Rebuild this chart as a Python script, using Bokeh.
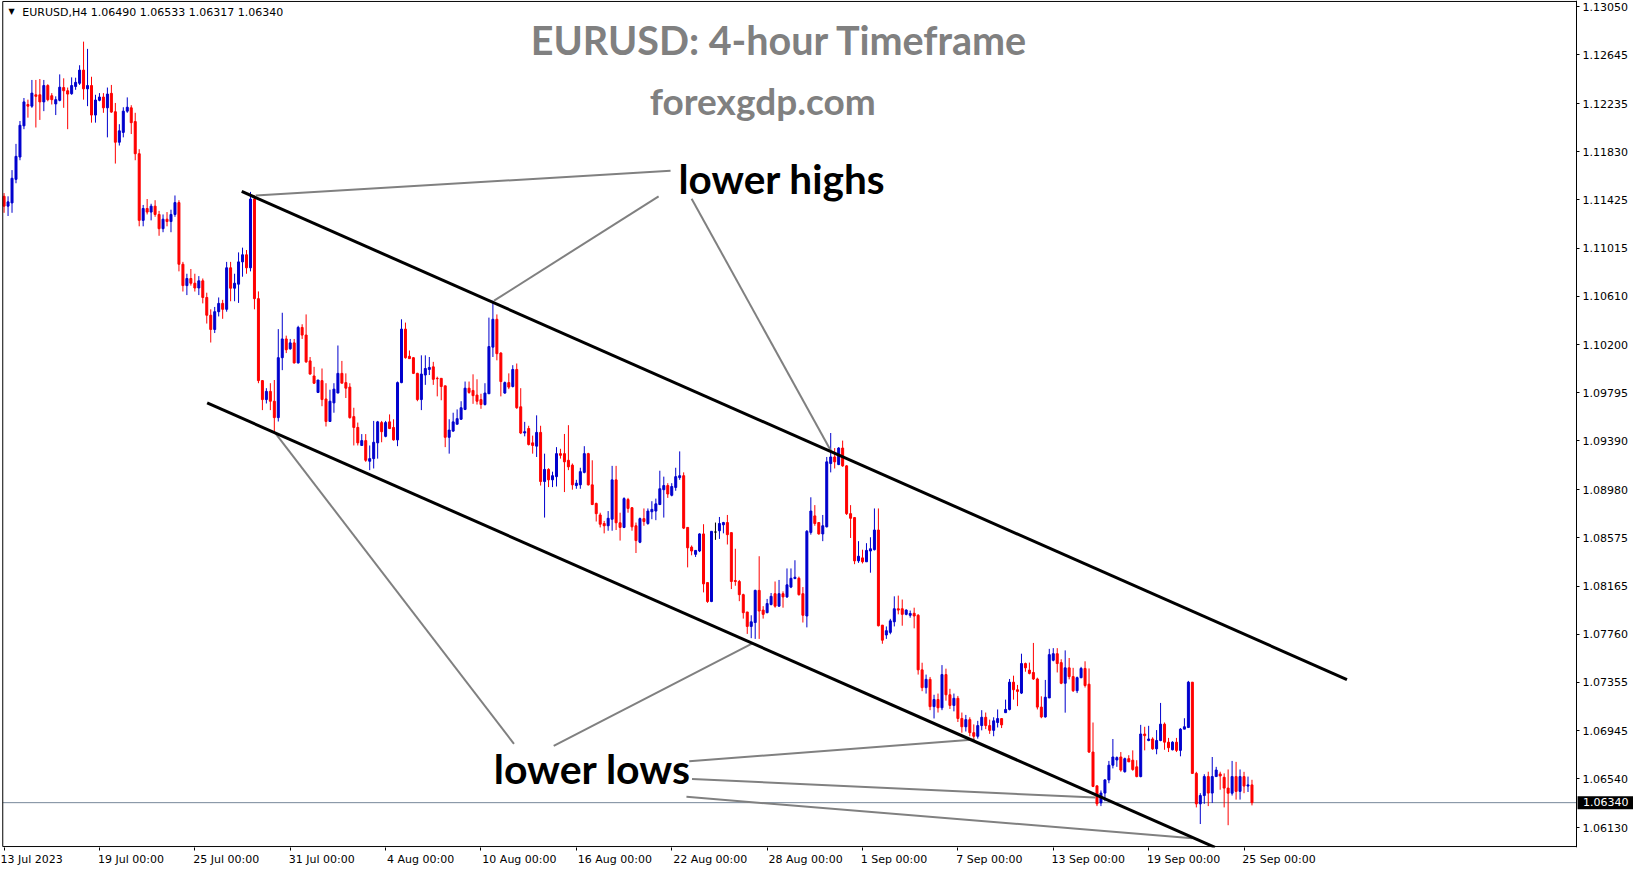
from bokeh.plotting import figure
from bokeh.models import Range1d, FixedTicker, PrintfTickFormatter, Label, ColumnDataSource
from bokeh.embed import file_html
from bokeh.resources import INLINE

# ---------------- data (EURUSD H4, 13 Jul 2023 - 25 Sep 2023) ----------------
bar_open = [
    1.11453, 1.11370, 1.11397, 1.11596, 1.11784, 1.12047, 1.12227, 1.12213, 1.12309, 1.12309,
    1.12249, 1.12387, 1.12301, 1.12232, 1.12262, 1.12370, 1.12343, 1.12318, 1.12379, 1.12406,
    1.12517, 1.12359, 1.12387, 1.12138, 1.12262, 1.12290, 1.12199, 1.12321, 1.12166, 1.11909,
    1.11992, 1.12171, 1.12199, 1.12083, 1.11812, 1.11250, 1.11350, 1.11320, 1.11370, 1.11300,
    1.11180, 1.11260, 1.11240, 1.11300, 1.11400, 1.10880, 1.10700, 1.10760, 1.10720, 1.10680,
    1.10740, 1.10600, 1.10450, 1.10330, 1.10480, 1.10550, 1.10500, 1.10850, 1.10678, 1.10712,
    1.10900, 1.10960, 1.10850, 1.11430, 1.10590, 1.09899, 1.09739, 1.09808, 1.09725, 1.09587,
    1.10092, 1.10250, 1.10167, 1.10217, 1.10048, 1.10347, 1.10283, 1.10065, 1.09938, 1.09799,
    1.09899, 1.09744, 1.09554, 1.09711, 1.09794, 1.09960, 1.09882, 1.09844, 1.09595, 1.09504,
    1.09352, 1.09393, 1.09219, 1.09241, 1.09374, 1.09545, 1.09429, 1.09551, 1.09504, 1.09399,
    1.09882, 1.10333, 1.10104, 1.10092, 1.09960, 1.09739, 1.09946, 1.09993, 1.10015, 1.09918,
    1.09918, 1.09855, 1.09421, 1.09473, 1.09531, 1.09573, 1.09656, 1.09835, 1.09816, 1.09777,
    1.09739, 1.09697, 1.09788, 1.10181, 1.10416, 1.10131, 1.09794, 1.09882, 1.09849, 1.09993,
    1.09678, 1.09457, 1.09495, 1.09374, 1.09346, 1.09462, 1.09048, 1.09150, 1.09062, 1.09089,
    1.09283, 1.09283, 1.09227, 1.09186, 1.09014, 1.09020, 1.09125, 1.09283, 1.09020, 1.08863,
    1.08766, 1.08694, 1.08675, 1.08730, 1.09062, 1.08700, 1.08661, 1.08896, 1.08827, 1.08675,
    1.08536, 1.08735, 1.08694, 1.08793, 1.08799, 1.08854, 1.08979, 1.09014, 1.08932, 1.08998,
    1.09081, 1.09097, 1.08661, 1.08495, 1.08434, 1.08462, 1.08606, 1.08196, 1.08036, 1.08622,
    1.08633, 1.08683, 1.08702, 1.08617, 1.08213, 1.08205, 1.08094, 1.07948, 1.07826, 1.07859,
    1.08130, 1.07964, 1.07942, 1.08011, 1.08102, 1.07997, 1.08102, 1.08075, 1.08158, 1.08230,
    1.08232, 1.08102, 1.07914, 1.08619, 1.08758, 1.08702, 1.08606, 1.08666, 1.09200, 1.09255,
    1.09191, 1.09330, 1.09180, 1.08777, 1.08744, 1.08379, 1.08404, 1.08371, 1.08462, 1.08473,
    1.08639, 1.07837, 1.07754, 1.07776, 1.07865, 1.07975, 1.07975, 1.07928, 1.07920, 1.07937,
    1.07920, 1.07460, 1.07310, 1.07380, 1.07150, 1.07210, 1.07140, 1.07420, 1.07250, 1.07160,
    1.07220, 1.07050, 1.06980, 1.07040, 1.06930, 1.06900, 1.06990, 1.07060, 1.06990, 1.06950,
    1.07016, 1.07049, 1.07099, 1.07126, 1.07356, 1.07292, 1.07264, 1.07513, 1.07458, 1.07438,
    1.07383, 1.07146, 1.07063, 1.07223, 1.07541, 1.07596, 1.07521, 1.07347, 1.07477, 1.07403,
    1.07284, 1.07394, 1.07472, 1.07339, 1.06767, 1.06482, 1.06338, 1.06421, 1.06532, 1.06656,
    1.06700, 1.06725, 1.06601, 1.06711, 1.06698, 1.06642, 1.06560, 1.06919, 1.06864, 1.06877,
    1.06794, 1.06864, 1.07002, 1.06850, 1.06786, 1.06850, 1.06781, 1.06960, 1.06974, 1.07356,
    1.06587, 1.06330, 1.06400, 1.06560, 1.06421, 1.06560, 1.06582, 1.06554, 1.06463, 1.06420,
    1.06560, 1.06435, 1.06560, 1.06480, 1.06490,
]
bar_high = [
    1.11480, 1.11453, 1.11674, 1.11895, 1.12088, 1.12282, 1.12268, 1.12434, 1.12434, 1.12442,
    1.12434, 1.12398, 1.12323, 1.12296, 1.12481, 1.12448, 1.12370, 1.12456, 1.12453, 1.12558,
    1.12757, 1.12696, 1.12461, 1.12309, 1.12323, 1.12323, 1.12370, 1.12392, 1.12240, 1.12061,
    1.12204, 1.12287, 1.12221, 1.12157, 1.11850, 1.11380, 1.11430, 1.11390, 1.11420, 1.11330,
    1.11300, 1.11320, 1.11340, 1.11460, 1.11420, 1.10900, 1.10800, 1.10840, 1.10800, 1.10780,
    1.10760, 1.10640, 1.10500, 1.10520, 1.10600, 1.10580, 1.10900, 1.10900, 1.10800, 1.10980,
    1.11020, 1.11000, 1.11490, 1.11460, 1.10651, 1.09904, 1.09835, 1.09877, 1.09904, 1.10333,
    1.10471, 1.10278, 1.10250, 1.10250, 1.10361, 1.10374, 1.10457, 1.10098, 1.10015, 1.09904,
    1.10001, 1.09877, 1.09822, 1.09877, 1.10195, 1.10065, 1.09960, 1.09877, 1.09670, 1.09545,
    1.09448, 1.09448, 1.09352, 1.09559, 1.09559, 1.09559, 1.09559, 1.09614, 1.09573, 1.09891,
    1.10416, 1.10388, 1.10153, 1.10098, 1.09965, 1.10112, 1.10112, 1.10098, 1.10057, 1.09932,
    1.09918, 1.09855, 1.09573, 1.09628, 1.09656, 1.09725, 1.09891, 1.09891, 1.09952, 1.09910,
    1.09788, 1.09877, 1.10430, 1.10573, 1.10457, 1.10139, 1.09891, 1.09960, 1.10029, 1.10043,
    1.09835, 1.09551, 1.09518, 1.09435, 1.09606, 1.09518, 1.09283, 1.09160, 1.09131, 1.09338,
    1.09324, 1.09449, 1.09523, 1.09200, 1.09062, 1.09164, 1.09346, 1.09290, 1.09227, 1.08870,
    1.08785, 1.08716, 1.08799, 1.09180, 1.09180, 1.08785, 1.08915, 1.08910, 1.08832, 1.08702,
    1.08744, 1.08821, 1.08821, 1.08882, 1.08904, 1.09139, 1.09089, 1.09034, 1.09034, 1.09164,
    1.09302, 1.09125, 1.08661, 1.08509, 1.08467, 1.08611, 1.08688, 1.08196, 1.08628, 1.08702,
    1.08749, 1.08708, 1.08766, 1.08617, 1.08481, 1.08218, 1.08102, 1.07948, 1.07920, 1.08136,
    1.08418, 1.07997, 1.08058, 1.08108, 1.08205, 1.08218, 1.08122, 1.08315, 1.08315, 1.08384,
    1.08246, 1.08158, 1.08639, 1.08915, 1.08849, 1.08702, 1.08766, 1.09255, 1.09457, 1.09330,
    1.09338, 1.09393, 1.09186, 1.08849, 1.08749, 1.08545, 1.08473, 1.08528, 1.08578, 1.08821,
    1.08821, 1.07837, 1.07826, 1.07890, 1.08080, 1.08086, 1.08053, 1.07970, 1.07960, 1.07984,
    1.07930, 1.07520, 1.07420, 1.07400, 1.07250, 1.07260, 1.07500, 1.07470, 1.07300, 1.07260,
    1.07240, 1.07100, 1.07080, 1.07060, 1.07000, 1.07030, 1.07120, 1.07100, 1.07040, 1.07060,
    1.07126, 1.07052, 1.07209, 1.07383, 1.07411, 1.07333, 1.07596, 1.07521, 1.07521, 1.07687,
    1.07394, 1.07237, 1.07375, 1.07637, 1.07643, 1.07643, 1.07549, 1.07624, 1.07560, 1.07477,
    1.07403, 1.07485, 1.07532, 1.07472, 1.07016, 1.06482, 1.06443, 1.06537, 1.06692, 1.06877,
    1.06730, 1.06767, 1.06720, 1.06740, 1.06781, 1.06698, 1.06996, 1.06980, 1.06988, 1.06891,
    1.06952, 1.07181, 1.07016, 1.06886, 1.06858, 1.06886, 1.06969, 1.07052, 1.07367, 1.07356,
    1.06600, 1.06420, 1.06580, 1.06601, 1.06725, 1.06642, 1.06601, 1.06587, 1.06620, 1.06692,
    1.06684, 1.06620, 1.06600, 1.06560, 1.06533,
]
bar_low = [
    1.11314, 1.11287, 1.11314, 1.11563, 1.11757, 1.12019, 1.12116, 1.12199, 1.12033, 1.12097,
    1.12171, 1.12254, 1.12227, 1.12138, 1.12254, 1.12199, 1.12019, 1.12309, 1.12351, 1.12392,
    1.12268, 1.12213, 1.12074, 1.12074, 1.12254, 1.12157, 1.11950, 1.12157, 1.11729, 1.11881,
    1.11950, 1.12157, 1.11978, 1.11757, 1.11200, 1.11200, 1.11300, 1.11250, 1.11280, 1.11120,
    1.11150, 1.11200, 1.11150, 1.11280, 1.10820, 1.10650, 1.10620, 1.10700, 1.10650, 1.10620,
    1.10550, 1.10380, 1.10220, 1.10300, 1.10440, 1.10420, 1.10480, 1.10568, 1.10568, 1.10554,
    1.10775, 1.10800, 1.10820, 1.10500, 1.09877, 1.09650, 1.09706, 1.09650, 1.09468, 1.09554,
    1.09987, 1.10131, 1.10159, 1.10043, 1.10043, 1.10250, 1.10048, 1.09950, 1.09870, 1.09794,
    1.09683, 1.09512, 1.09554, 1.09628, 1.09794, 1.09877, 1.09752, 1.09578, 1.09352, 1.09352,
    1.09352, 1.09214, 1.09144, 1.09158, 1.09241, 1.09379, 1.09421, 1.09490, 1.09393, 1.09346,
    1.09877, 1.10084, 1.10084, 1.09954, 1.09725, 1.09650, 1.09863, 1.09946, 1.09863, 1.09766,
    1.09733, 1.09338, 1.09283, 1.09468, 1.09531, 1.09567, 1.09650, 1.09788, 1.09703, 1.09697,
    1.09661, 1.09689, 1.09788, 1.10098, 1.10070, 1.09766, 1.09788, 1.09827, 1.09841, 1.09661,
    1.09448, 1.09429, 1.09352, 1.09283, 1.09255, 1.09014, 1.08744, 1.09001, 1.09001, 1.09006,
    1.09241, 1.08959, 1.09144, 1.08979, 1.08987, 1.08987, 1.09117, 1.09014, 1.08849, 1.08711,
    1.08661, 1.08611, 1.08633, 1.08633, 1.08639, 1.08550, 1.08655, 1.08785, 1.08633, 1.08445,
    1.08528, 1.08675, 1.08683, 1.08730, 1.08722, 1.08849, 1.08744, 1.08910, 1.08923, 1.08970,
    1.09062, 1.08647, 1.08324, 1.08426, 1.08412, 1.08453, 1.08113, 1.08025, 1.08031, 1.08556,
    1.08564, 1.08611, 1.08517, 1.08141, 1.08169, 1.08039, 1.07892, 1.07763, 1.07727, 1.07721,
    1.07721, 1.07892, 1.07937, 1.08003, 1.07984, 1.07992, 1.07984, 1.08066, 1.08149, 1.08224,
    1.08086, 1.07859, 1.07818, 1.08600, 1.08675, 1.08600, 1.08545, 1.08661, 1.09125, 1.09158,
    1.09186, 1.09172, 1.08766, 1.08572, 1.08351, 1.08362, 1.08357, 1.08371, 1.08279, 1.08467,
    1.07826, 1.07680, 1.07721, 1.07760, 1.07826, 1.07928, 1.07832, 1.07920, 1.07900, 1.07810,
    1.07420, 1.07280, 1.07260, 1.07120, 1.07050, 1.07100, 1.07120, 1.07200, 1.07130, 1.07110,
    1.07020, 1.06930, 1.06940, 1.06900, 1.06860, 1.06880, 1.06950, 1.06960, 1.06920, 1.06900,
    1.06974, 1.06969, 1.07099, 1.07118, 1.07209, 1.07154, 1.07256, 1.07444, 1.07422, 1.07375,
    1.07126, 1.07052, 1.07057, 1.07223, 1.07532, 1.07438, 1.07339, 1.07099, 1.07380, 1.07273,
    1.07264, 1.07389, 1.07311, 1.06759, 1.06471, 1.06311, 1.06311, 1.06352, 1.06504, 1.06629,
    1.06642, 1.06601, 1.06593, 1.06684, 1.06609, 1.06554, 1.06554, 1.06781, 1.06858, 1.06786,
    1.06748, 1.06858, 1.06786, 1.06767, 1.06781, 1.06767, 1.06731, 1.06960, 1.06969, 1.06582,
    1.06300, 1.06160, 1.06330, 1.06311, 1.06338, 1.06560, 1.06449, 1.06300, 1.06150, 1.06400,
    1.06366, 1.06366, 1.06420, 1.06430, 1.06317,
]
bar_close = [
    1.11370, 1.11406, 1.11605, 1.11790, 1.12052, 1.12249, 1.12213, 1.12323, 1.12296, 1.12249,
    1.12387, 1.12268, 1.12268, 1.12268, 1.12373, 1.12343, 1.12315, 1.12387, 1.12414, 1.12517,
    1.12359, 1.12387, 1.12138, 1.12265, 1.12290, 1.12199, 1.12315, 1.12163, 1.11909, 1.12005,
    1.12171, 1.12204, 1.12074, 1.11812, 1.11250, 1.11350, 1.11320, 1.11370, 1.11300, 1.11180,
    1.11260, 1.11240, 1.11300, 1.11400, 1.10880, 1.10700, 1.10760, 1.10720, 1.10680, 1.10740,
    1.10600, 1.10450, 1.10330, 1.10480, 1.10550, 1.10500, 1.10850, 1.10678, 1.10720, 1.10900,
    1.10960, 1.10850, 1.11430, 1.10590, 1.09899, 1.09739, 1.09808, 1.09725, 1.09587, 1.10092,
    1.10250, 1.10159, 1.10217, 1.10048, 1.10347, 1.10283, 1.10057, 1.09954, 1.09877, 1.09904,
    1.09739, 1.09554, 1.09725, 1.09827, 1.09960, 1.09877, 1.09835, 1.09587, 1.09504, 1.09374,
    1.09393, 1.09227, 1.09241, 1.09379, 1.09551, 1.09468, 1.09545, 1.09495, 1.09399, 1.09882,
    1.10333, 1.10092, 1.10084, 1.09960, 1.09739, 1.09954, 1.10001, 1.10010, 1.09910, 1.09915,
    1.09849, 1.09421, 1.09482, 1.09551, 1.09578, 1.09670, 1.09835, 1.09799, 1.09772, 1.09725,
    1.09697, 1.09794, 1.10186, 1.10416, 1.10126, 1.09891, 1.09882, 1.09844, 1.09993, 1.09670,
    1.09457, 1.09468, 1.09360, 1.09352, 1.09462, 1.09048, 1.09150, 1.09062, 1.09097, 1.09283,
    1.09269, 1.09214, 1.09172, 1.09020, 1.09034, 1.09131, 1.09283, 1.09020, 1.08854, 1.08777,
    1.08688, 1.08675, 1.08738, 1.09062, 1.08700, 1.08661, 1.08904, 1.08821, 1.08666, 1.08550,
    1.08735, 1.08711, 1.08799, 1.08813, 1.08860, 1.08987, 1.09014, 1.08943, 1.09006, 1.09089,
    1.09097, 1.08655, 1.08489, 1.08462, 1.08467, 1.08606, 1.08185, 1.08036, 1.08628, 1.08622,
    1.08694, 1.08702, 1.08600, 1.08205, 1.08205, 1.08094, 1.07942, 1.07826, 1.07865, 1.08130,
    1.07956, 1.07928, 1.08019, 1.08080, 1.07997, 1.08102, 1.08075, 1.08177, 1.08232, 1.08241,
    1.08094, 1.07920, 1.08628, 1.08799, 1.08694, 1.08606, 1.08675, 1.09214, 1.09255, 1.09214,
    1.09330, 1.09180, 1.08777, 1.08738, 1.08379, 1.08418, 1.08371, 1.08467, 1.08481, 1.08639,
    1.07832, 1.07710, 1.07790, 1.07873, 1.07975, 1.07964, 1.07928, 1.07964, 1.07935, 1.07914,
    1.07460, 1.07310, 1.07380, 1.07150, 1.07210, 1.07140, 1.07420, 1.07250, 1.07160, 1.07220,
    1.07050, 1.06980, 1.07040, 1.06930, 1.06900, 1.06990, 1.07060, 1.06990, 1.06950, 1.07030,
    1.07049, 1.06996, 1.07126, 1.07356, 1.07292, 1.07278, 1.07513, 1.07477, 1.07430, 1.07383,
    1.07146, 1.07063, 1.07229, 1.07588, 1.07596, 1.07513, 1.07347, 1.07477, 1.07403, 1.07284,
    1.07394, 1.07472, 1.07328, 1.06767, 1.06477, 1.06330, 1.06421, 1.06532, 1.06656, 1.06725,
    1.06720, 1.06615, 1.06711, 1.06684, 1.06620, 1.06560, 1.06919, 1.06905, 1.06877, 1.06794,
    1.06864, 1.07002, 1.06850, 1.06803, 1.06850, 1.06781, 1.06960, 1.06980, 1.07356, 1.06587,
    1.06330, 1.06400, 1.06560, 1.06421, 1.06560, 1.06615, 1.06565, 1.06463, 1.06420, 1.06560,
    1.06435, 1.06560, 1.06480, 1.06490, 1.06340,
]

date_ticks = [0, 24, 48, 72, 96, 120, 144, 168, 192, 216, 240, 264, 288, 312]
date_labels = ["13 Jul 2023", "19 Jul 00:00", "25 Jul 00:00", "31 Jul 00:00", "4 Aug 00:00",
               "10 Aug 00:00", "16 Aug 00:00", "22 Aug 00:00", "28 Aug 00:00", "1 Sep 00:00",
               "7 Sep 00:00", "13 Sep 00:00", "19 Sep 00:00", "25 Sep 00:00"]
price_ticks = [1.13050, 1.12645, 1.12235, 1.11830, 1.11425, 1.11015, 1.10610, 1.10200, 1.09795,
               1.09390, 1.08980, 1.08575, 1.08165, 1.07760, 1.07355, 1.06945, 1.06540, 1.06130]
current_price = 1.06340
header_text = "EURUSD,H4  1.06490 1.06533 1.06317 1.06340"

# channel lines and pointer lines (bar index, price)
channel_x0 = [59.8, 51.1]
channel_y0 = [1.11494, 1.09711]
channel_x1 = [337.9, 304.7]
channel_y1 = [1.07378, 1.05963]

pointer_x0 = [63.3, 123.3, 173.0, 68.2, 138.3, 172.4, 173.1, 171.7]
pointer_y0 = [1.11460, 1.10573, 1.11433, 1.09458, 1.06818, 1.06689, 1.06539, 1.06389]
pointer_x1 = [167.7, 164.7, 208.0, 128.3, 188.3, 244.2, 274.6, 299.0]
pointer_y1 = [1.11668, 1.11453, 1.09310, 1.06836, 1.07684, 1.06872, 1.06383, 1.06040]

# ---------------- figure ----------------
# chart window edges in data units: left border, price-scale edge, bottom, top
BX0, BX1 = -0.33, 395.67
BY0, BY1 = 1.05970, 1.13096

n = len(bar_close)
idx = list(range(n))
BULL, BEAR, DOJI = "#0000CD", "#FF0000", "#000000"
colors = [BULL if c > o else (BEAR if c < o else DOJI) for o, c in zip(bar_open, bar_close)]
src = ColumnDataSource(dict(
    x=idx,
    h=[max(h, o, c) for h, o, c in zip(bar_high, bar_open, bar_close)],
    l=[min(l, o, c) for l, o, c in zip(bar_low, bar_open, bar_close)],
    top=[max(o, c) for o, c in zip(bar_open, bar_close)],
    bottom=[min(o, c) for o, c in zip(bar_open, bar_close)],
    color=colors,
))

p = figure(width=1633, height=868, x_range=Range1d(-0.9, 410.0), y_range=Range1d(1.05962, 1.13104),
           output_backend="svg", toolbar_location=None, y_axis_location="right",
           min_border_left=0, min_border_top=0, min_border_right=0, min_border_bottom=20)
p.background_fill_color = "white"
p.border_fill_color = "white"
p.outline_line_color = None
p.grid.visible = False

AX_FONT = "DejaVu Sans"
# DejaVu Sans advance widths (em) used to left-align date labels at their tick
ADV = {" ": 0.318, ":": 0.337, "J": 0.295, "u": 0.634, "l": 0.278, "A": 0.684, "g": 0.635,
       "S": 0.635, "e": 0.615, "p": 0.635}
FIG_SP = "\u2007"


def left_aligned(s):
    w = sum(ADV.get(ch, 0.636) for ch in s)
    return FIG_SP * int(round(w / 0.636)) + s


overrides = {t: (left_aligned(s) if k > 0 else s)
             for k, (t, s) in enumerate(zip(date_ticks, date_labels))}

p.xaxis.ticker = FixedTicker(ticks=date_ticks)
p.xaxis.major_label_overrides = overrides
p.xaxis.major_tick_out = 3
p.xaxis.major_tick_in = 0
p.xaxis.minor_tick_out = 0
p.xaxis.minor_tick_in = 0
p.xaxis.major_label_standoff = 2
p.xaxis.major_label_text_font = AX_FONT
p.xaxis.major_label_text_font_size = "11px"
p.xaxis.major_label_text_color = "black"
p.xaxis.axis_line_color = None
p.xaxis.major_tick_line_color = "black"

p.yaxis.fixed_location = BX1
p.yaxis.ticker = FixedTicker(ticks=price_ticks)
p.yaxis.formatter = PrintfTickFormatter(format="%.5f")
p.yaxis.major_tick_out = 3
p.yaxis.major_tick_in = 0
p.yaxis.minor_tick_out = 0
p.yaxis.minor_tick_in = 0
p.yaxis.major_label_standoff = 3
p.yaxis.major_label_text_font = AX_FONT
p.yaxis.major_label_text_font_size = "11px"
p.yaxis.major_label_text_color = "black"
p.yaxis.axis_line_color = "black"
p.yaxis.major_tick_line_color = "black"

# current price line (behind the candles)
p.segment(x0=[BX0], y0=[current_price], x1=[BX1], y1=[current_price], line_color="#778899", line_width=1)

# candles
p.segment(x0="x", y0="l", x1="x", y1="h", line_color="color", line_width=1, source=src)
p.vbar(x="x", width=0.5, top="top", bottom="bottom", fill_color="color", line_color="color",
       line_width=1, source=src)

# chart window border (left, top, bottom); the price scale line is the axis line
p.segment(x0=[BX0, BX0, BX0], y0=[BY0, BY1, BY0], x1=[BX0, BX1, BX1], y1=[BY1, BY1, BY0],
          line_color="black", line_width=1)

p.segment(x0=pointer_x0, y0=pointer_y0, x1=pointer_x1, y1=pointer_y1, line_color="#808080", line_width=2)
p.segment(x0=channel_x0, y0=channel_y0, x1=channel_x1, y1=channel_y1, line_color="black", line_width=3)

BIG_FONT = "Lato"


def big_label(x, y, text, size, color, align):
    return Label(x=x, y=y, text=text, text_align=align, text_baseline="alphabetic",
                 text_font=BIG_FONT, text_font_style="bold", text_font_size=size, text_color=color)


p.add_layout(big_label(195.1, 1.12775, "EURUSD: 4-hour Timeframe", "39.5px", "#808080", "center"))
p.add_layout(big_label(190.9, 1.12260, "forexgdp.com", "37px", "#808080", "center"))
p.add_layout(big_label(169.7, 1.11600, "lower highs", "40.5px", "black", "left"))
p.add_layout(big_label(123.2, 1.06626, "lower lows", "41px", "black", "left"))

p.add_layout(Label(x=1.9, y=1.13010, text="\u25BC", text_align="center", text_baseline="middle",
                   text_font=AX_FONT, text_font_size="8px", text_color="black"))
p.add_layout(Label(x=4.6, y=1.13004, text=header_text, text_align="left", text_baseline="alphabetic",
                   text_font=AX_FONT, text_font_size="11px", text_color="black"))

price_box = Label(x=BX1, y=current_price, x_offset=1, text="\u2002%.5f\u2002" % current_price,
                  text_align="left", text_baseline="middle", text_font=AX_FONT, text_font_size="11px",
                  text_color="white", background_fill_color="black", background_fill_alpha=1.0)
price_box.level = "overlay"
p.add_layout(price_box)

open("out.html", "w").write(file_html(p, INLINE))
